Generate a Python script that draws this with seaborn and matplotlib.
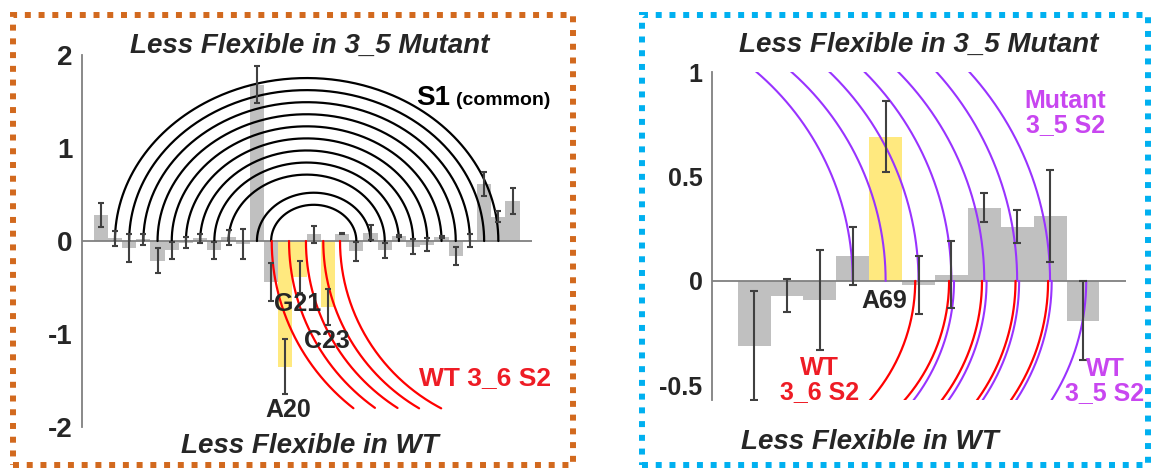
import numpy as np
import pandas as pd
import matplotlib
matplotlib.use('Agg')
import matplotlib.pyplot as plt
import seaborn as sns
from matplotlib.patches import Rectangle

# ---- data: left panel (residues 7-36) ----
res_left = list(range(7, 37))
val_left = [0.28, 0.03, -0.08, 0.02, -0.21, -0.10, -0.02, 0.03, -0.10, 0.04,
            -0.03, 1.68, -0.44, -1.35, -0.39, 0.07, -0.71, 0.08, -0.11, 0.09,
            -0.10, 0.05, -0.06, -0.04, 0.04, -0.16, 0.01, 0.61, 0.26, 0.43]
err_left = [0.13, 0.08, 0.15, 0.06, 0.13, 0.09, 0.06, 0.05, 0.09, 0.08,
            0.16, 0.20, 0.20, 0.30, 0.17, 0.09, 0.19, 0.01, 0.10, 0.08,
            0.08, 0.01, 0.08, 0.07, 0.01, 0.10, 0.07, 0.13, 0.06, 0.14]
hl_left = [20, 21, 23]

# ---- data: right panel (residues 65-75) ----
res_right = list(range(65, 76))
val_right = [-0.31, -0.07, -0.09, 0.12, 0.69, -0.02, 0.03, 0.35, 0.26, 0.31, -0.19]
err_right = [0.26, 0.08, 0.24, 0.14, 0.17, 0.14, 0.16, 0.07, 0.08, 0.22, 0.19]
hl_right = [69]

# S1 (common) base pairs
s1_i = [8, 9, 10, 11, 12, 13, 14, 15, 16, 18, 19]
s1_j = [35, 34, 33, 32, 31, 30, 29, 28, 27, 26, 25]

# WT 3_6 S2 arcs: feet on left panel / right panel, radius (px)
wt36_left_feet = [19.04, 20.26, 21.45, 22.67, 23.85]
wt36_left_r = [212, 205, 198, 194, 189]
wt36_right_feet = [69.9, 70.93, 71.93, 72.95, 73.94]
wt36_right_r = [180, 182, 197, 204, 210]
# WT 3_5 S2 arcs (right panel, below axis)
wt35_feet = [71.08, 72.07, 73.06, 74.05, 75.1]
wt35_r = [196, 206, 213, 218, 222]
# Mutant 3_5 S2 arcs (right panel, above axis)
mut35_feet = [68, 69, 70, 71, 72, 73, 74]
mut35_r = [275, 279, 290, 295, 297, 311, 311]

GRAY = '#c0c0c0'
YELLOW = '#ffe97f'
RED = '#ff0000'
PURPLE = '#9933ff'
PURPLE_TXT = '#c846f0'
RED_TXT = '#ee1c25'

sns.set_theme(style='white')
plt.rcParams['font.family'] = ['Liberation Sans', 'DejaVu Sans']

fig = plt.figure(figsize=(11.51, 4.68), dpi=100)
axL = fig.add_axes([82 / 1151, 1 - 427 / 468, 450 / 1151, 372 / 468])
axR = fig.add_axes([712.3 / 1151, 1 - 400 / 468, 413.4 / 1151, 328 / 468])


def draw_bars(ax, res, vals, errs, hl, capsize):
    df = pd.DataFrame({'res': res, 'val': vals,
                       'grp': ['hl' if r in hl else 'n' for r in res]})
    sns.barplot(data=df, x='res', y='val', hue='grp', palette={'n': GRAY, 'hl': YELLOW},
                native_scale=True, width=1, dodge=False, legend=False,
                errorbar=None, saturation=1, linewidth=0, ax=ax)
    ax.errorbar(res, vals, yerr=errs, fmt='none', ecolor='#404040', elinewidth=1.5,
                capsize=capsize, capthick=1.5, zorder=4)
    ax.axhline(0, color='#808080', lw=1.3, zorder=2.5)
    ax.set_xlabel('')
    ax.set_ylabel('')
    ax.set_xticks([])
    for s in ['top', 'right', 'bottom']:
        ax.spines[s].set_visible(False)
    ax.spines['left'].set_color('#808080')
    ax.spines['left'].set_linewidth(1.3)
    ax.tick_params(axis='y', direction='in', length=5, width=1.3, color='#808080',
                   pad=7, labelcolor='#262626')


def arc(ax, xc_data, rx_px, ry_px, t0, t1, shift_px=0.0, ymin=None, **kw):
    cx, cy = ax.transData.transform((xc_data, 0))
    cx += shift_px
    t = np.linspace(t0, t1, 300)
    pts = np.column_stack([cx + rx_px * np.cos(t), cy + ry_px * np.sin(t)])
    xy = ax.transData.inverted().transform(pts)
    if ymin is not None:
        xy = xy[xy[:, 1] >= ymin]
    ax.plot(xy[:, 0], xy[:, 1], **kw)


# ---------------- left panel ----------------
draw_bars(axL, res_left, val_left, err_left, hl_left, 2.5)
axL.set_xlim(5.68, 37.37)
axL.set_ylim(-2, 2)
axL.set_yticks([-2, -1, 0, 1, 2], ['-2', '-1', '0', '1', '2'],
               fontsize=20, fontweight='bold')

px_res_L = 450 / (37.37 - 5.68)
for i, j in zip(s1_i, s1_j):
    rx = (j - i) / 2 * px_res_L
    arc(axL, (i + j) / 2, rx, 0.85 * rx, 0, np.pi, color='black', lw=1.6, zorder=3)

for f, r in zip(wt36_left_feet, wt36_left_r):
    arc(axL, f, r, r, np.pi, 1.5 * np.pi, shift_px=r, ymin=-1.8,
        color=RED, lw=1.6, zorder=3)

tb = dict(fontweight='bold', ha='center', va='center', clip_on=False, zorder=6)
axL.text(21.74, 2.10, 'Less Flexible in 3_5 Mutant', fontsize=20, style='italic',
         color='#262626', **tb)
axL.text(21.74, -2.20, 'Less Flexible in WT', fontsize=20, style='italic',
         color='#262626', **tb)
axL.text(29.2, 1.46, 'S1', fontsize=20, fontweight='bold', ha='left', va='baseline',
         color='black')
axL.text(32.0, 1.46, '(common)', fontsize=14, fontweight='bold', ha='left',
         va='baseline', color='black')
axL.text(20.86, -0.68, 'G21', fontsize=18, color='#262626', **tb)
axL.text(22.93, -1.075, 'C23', fontsize=18, color='#262626', **tb)
axL.text(20.19, -1.82, 'A20', fontsize=18, color='#262626', **tb)
axL.text(34.06, -1.47, 'WT 3_6 S2', fontsize=19, color=RED_TXT, **tb)

# ---------------- right panel ----------------
draw_bars(axR, res_right, val_right, err_right, hl_right, 3)
axR.set_xlim(63.73, 76.3)
axR.set_ylim(-0.57, 1.0)
axR.set_yticks([-0.5, 0, 0.5, 1], ['-0.5', '0', '0.5', '1'],
               fontsize=18, fontweight='bold')

for f, r in zip(mut35_feet, mut35_r):
    arc(axR, f, r, r, 0, 0.5 * np.pi, shift_px=-r, color=PURPLE, lw=1.5, zorder=3)
for f, r in zip(wt36_right_feet, wt36_right_r):
    arc(axR, f, r, r, -0.5 * np.pi, 0, shift_px=-r, color=RED, lw=1.6, zorder=3)
for f, r in zip(wt35_feet, wt35_r):
    arc(axR, f, r, r, -0.5 * np.pi, 0, shift_px=-r, color=PURPLE, lw=1.5, zorder=3)

axR.text(70.01, 1.13, 'Less Flexible in 3_5 Mutant', fontsize=20, style='italic',
         color='#262626', **tb)
axR.text(68.52, -0.77, 'Less Flexible in WT', fontsize=20, style='italic',
         color='#262626', **tb)
axR.text(68.95, -0.096, 'A69', fontsize=18, color='#262626', **tb)
axR.text(67.0, -0.474, 'WT\n3_6 S2', fontsize=18, color=RED_TXT, linespacing=1.0, **tb)
axR.text(74.47, 0.804, 'Mutant\n3_5 S2', fontsize=18, color=PURPLE_TXT,
         linespacing=1.0, **tb)
axR.text(75.67, -0.481, 'WT\n3_5 S2', fontsize=18, color=PURPLE_TXT,
         linespacing=1.0, **tb)

# dashed panel frames
fig.add_artist(Rectangle((12.7 / 1151, 3.5 / 468), 560.6 / 1151, 449.5 / 468,
                         transform=fig.transFigure, fill=False, ec='#d2691e',
                         lw=4.3, ls=(0, (1, 1.3))))
fig.add_artist(Rectangle((641.7 / 1151, 3.5 / 468), 506.3 / 1151, 449.5 / 468,
                         transform=fig.transFigure, fill=False, ec='#00b0f0',
                         lw=4.3, ls=(0, (1, 1.3))))

fig.savefig('out.png', dpi=100)
